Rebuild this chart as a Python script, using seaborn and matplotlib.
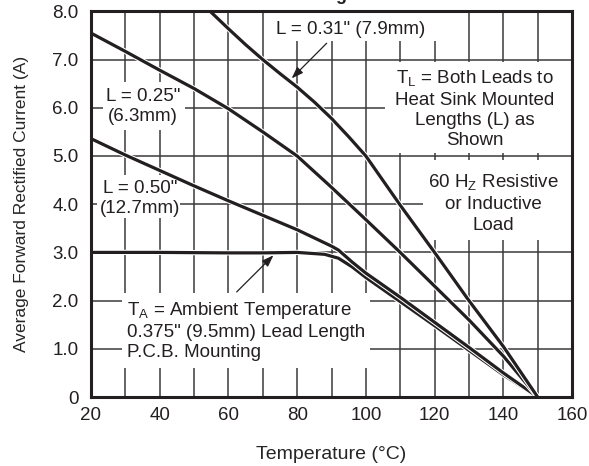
import numpy as np
import pandas as pd
import matplotlib
matplotlib.use("Agg")
import matplotlib.pyplot as plt
import matplotlib.patheffects as pe
from matplotlib.patches import Rectangle
import seaborn as sns

# ==========================================
# Data
# ==========================================
temp_031 = [50, 55, 60, 65, 70, 75, 80, 85, 90, 95, 100, 110, 120, 130, 140, 150]
amps_031 = [8.31, 7.98, 7.64, 7.31, 7.0, 6.71, 6.43, 6.12, 5.78, 5.4, 5.0, 3.98, 3.0, 2.0, 1.05, 0.0]

temp_025 = [20, 30, 40, 50, 60, 70, 80, 90, 100, 110, 120, 130, 140, 150]
amps_025 = [7.55, 7.17, 6.78, 6.4, 5.98, 5.5, 5.0, 4.35, 3.68, 3.0, 2.3, 1.6, 0.85, 0.0]

temp_050 = [20, 30, 40, 50, 60, 70, 80, 90, 92, 96, 100, 110, 120, 130, 140, 150]
amps_050 = [5.36, 5.02, 4.7, 4.38, 4.07, 3.77, 3.47, 3.13, 3.05, 2.8, 2.57, 2.07, 1.55, 1.03, 0.5, 0.0]

temp_pcb = [20, 40, 60, 70, 80, 88, 92, 96, 100, 110, 120, 130, 140, 150]
amps_pcb = [3.0, 3.0, 2.99, 2.99, 3.0, 2.96, 2.88, 2.7, 2.48, 1.98, 1.48, 0.97, 0.46, 0.0]

x_ticks = [20, 40, 60, 80, 100, 120, 140, 160]
y_ticks = [0, 1, 2, 3, 4, 5, 6, 7, 8]
y_tick_labels = ["0", "1.0", "2.0", "3.0", "4.0", "5.0", "6.0", "7.0", "8.0"]

INK = "#231f20"

sns.set_style("white")
plt.rcParams["font.family"] = ["Liberation Sans", "DejaVu Sans"]
plt.rcParams["mathtext.fontset"] = "custom"
plt.rcParams["mathtext.rm"] = "Liberation Sans"
plt.rcParams["text.color"] = INK

fig = plt.figure(figsize=(5.89, 4.66), dpi=100)
ax = fig.add_axes([91 / 589, 1 - 397 / 466, (572 - 91) / 589, (397 - 11.4) / 466])

# ==========================================
# Curves
# ==========================================
stroke = [pe.withStroke(linewidth=3.8, foreground="white")]
for t, a in [(temp_pcb, amps_pcb), (temp_050, amps_050), (temp_025, amps_025), (temp_031, amps_031)]:
    sns.lineplot(x=t, y=a, ax=ax, color=INK, linewidth=2.3, sort=False,
                 path_effects=stroke, zorder=5)

ax.set_xlim(20, 160)
ax.set_ylim(0, 8)
ax.set_xticks(x_ticks)
ax.set_xticks(np.arange(30, 160, 20), minor=True)
ax.set_yticks(y_ticks)
ax.set_yticklabels(y_tick_labels)
ax.tick_params(axis="both", which="both", length=0, labelsize=13.5, colors=INK)
ax.tick_params(axis="y", pad=9)
ax.tick_params(axis="x", pad=7)
ax.grid(True, which="both", axis="x", color="#3a3a3a", linewidth=1.1)
ax.grid(True, which="major", axis="y", color="#3a3a3a", linewidth=1.1)
ax.set_axisbelow(True)
for s in ax.spines.values():
    s.set_visible(True)
    s.set_color(INK)
    s.set_linewidth(2.2)
    s.set_zorder(6)

ax.set_xlabel("Temperature (°C)", fontsize=14, labelpad=16)
ax.set_ylabel("Average Forward Rectified Current (A)", fontsize=12.5, labelpad=17)

# ==========================================
# White label boxes and annotations
# ==========================================
boxes = [
    (70.6, 7.39, 49.8, 0.7),
    (23.5, 5.54, 23.9, 1.0),
    (21.7, 3.71, 24.2, 0.9),
    (105.6, 5.06, 54.4, 1.89),
    (116.6, 3.26, 43.4, 1.66),
    (29.0, 0.6, 72.2, 1.56),
]
for bx, by, bw, bh in boxes:
    ax.add_patch(Rectangle((bx, by), bw, bh, facecolor="white", edgecolor="none", zorder=2))

fs = 13.5
ls = 1.25
ax.text(95.6, 7.63, 'L = 0.31" (7.9mm)', ha="center", va="center", fontsize=fs, zorder=7)
ax.text(35.1, 6.03, 'L = 0.25"\n(6.3mm)', ha="center", va="center", fontsize=fs, linespacing=ls, zorder=7)
ax.text(34.3, 4.12, 'L = 0.50"\n(12.7mm)', ha="center", va="center", fontsize=fs, linespacing=ls, zorder=7)
ax.text(131.8, 5.98, "T$_\\mathrm{L}$ = Both Leads to\nHeat Sink Mounted\nLengths (L) as\nShown",
        ha="center", va="center", fontsize=fs, linespacing=ls, zorder=7)
ax.text(137.0, 4.02, "60 H$_\\mathrm{Z}$ Resistive\nor Inductive\nLoad",
        ha="center", va="center", fontsize=fs, linespacing=ls, zorder=7)
ax.text(30.4, 1.38, "T$_\\mathrm{A}$ = Ambient Temperature\n0.375\" (9.5mm) Lead Length\nP.C.B. Mounting",
        ha="left", va="center", fontsize=fs, linespacing=ls, zorder=7)

arrow = dict(arrowstyle="-|>,head_length=0.7,head_width=0.25", color=INK, lw=0.9, shrinkA=0, shrinkB=0)
ax.annotate("", xy=(78.4, 6.61), xytext=(88.6, 7.34), arrowprops=arrow, zorder=7)
ax.annotate("", xy=(73.1, 2.94), xytext=(62.4, 2.18), arrowprops=arrow, zorder=7)

# clipped chart title at the very top edge
fig.text(0.45, 0.999, "Forward Current Derating Curve", ha="center", va="baseline",
         fontsize=13, fontweight="bold")

fig.savefig("out.png", dpi=100)
